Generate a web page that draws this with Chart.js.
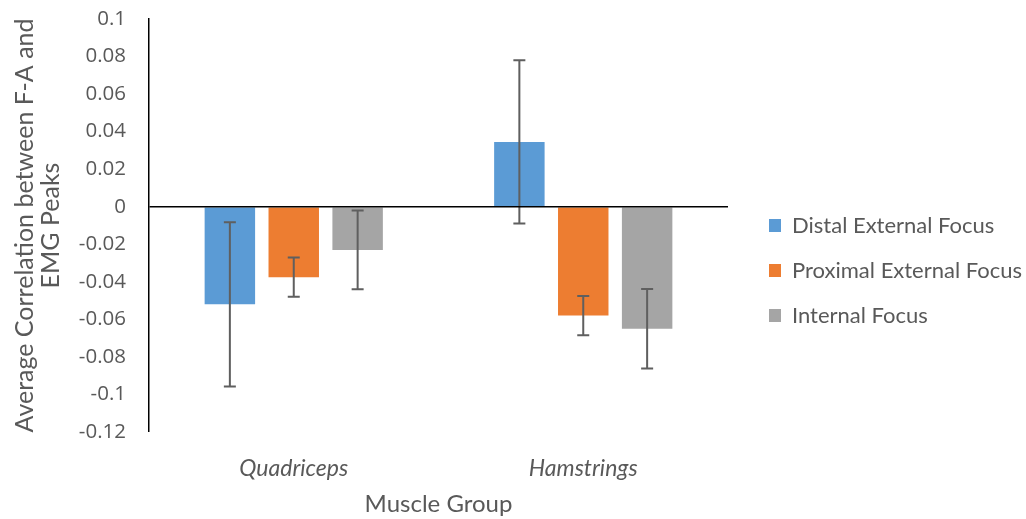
<!DOCTYPE html>
<html>
<head>
<meta charset="utf-8">
<script src="https://cdn.jsdelivr.net/npm/chart.js@4.4.1/dist/chart.umd.min.js"></script>
<style>
  html, body { margin: 0; padding: 0; background: #ffffff; }
  #wrap { width: 1026px; height: 519px; position: relative; }
</style>
</head>
<body>
<div id="wrap"><canvas id="c" width="1026" height="519"></canvas></div>
<script>
// ---- data ----
const categories = ['Quadriceps', 'Hamstrings'];
const seriesNames = ['Distal External Focus', 'Proximal External Focus', 'Internal Focus'];
const distalValues = [-0.052, 0.0345];
const proximalValues = [-0.0375, -0.058];
const internalValues = [-0.023, -0.065];
const distalErrors = [0.0437, 0.0435];
const proximalErrors = [0.0105, 0.0105];
const internalErrors = [0.021, 0.0212];
const yTickValues = [-0.12, -0.1, -0.08, -0.06, -0.04, -0.02, 0, 0.02, 0.04, 0.06, 0.08, 0.1];
const yTitle = ['Average Correlation between F-A and', 'EMG Peaks'];
const xTitle = 'Muscle Group';

const FONT = 'Lato';
const TEXT = '#595959';

const errorBars = {
  id: 'errorBars',
  afterDatasetsDraw(chart) {
    const ctx = chart.ctx;
    const y = chart.scales.y;
    ctx.save();
    ctx.strokeStyle = '#5f5f5f';
    ctx.lineWidth = 2;
    chart.data.datasets.forEach((ds, di) => {
      const meta = chart.getDatasetMeta(di);
      meta.data.forEach((bar, i) => {
        const v = ds.data[i], e = ds.errors[i];
        const x = bar.x;
        const yTop = y.getPixelForValue(v + e);
        const yBot = y.getPixelForValue(v - e);
        ctx.beginPath();
        ctx.moveTo(x, yTop); ctx.lineTo(x, yBot);
        ctx.moveTo(x - 6, yTop); ctx.lineTo(x + 6, yTop);
        ctx.moveTo(x - 6, yBot); ctx.lineTo(x + 6, yBot);
        ctx.stroke();
      });
    });
    ctx.restore();
  }
};

const legendFix = {
  id: 'legendFix',
  beforeLayout(chart) {
    const lg = chart.legend;
    if (lg && !lg._wrappedFit) {
      const orig = lg.fit.bind(lg);
      lg.fit = function () { orig(); this.width = 298; };
      lg._wrappedFit = true;
    }
  },
  afterLayout(chart) {
    const lg = chart.legend;
    if (!lg) return;
    lg.left += 18; lg.right += 18;
    lg.top += 1.5; lg.bottom += 1.5;
  }
};

new Chart(document.getElementById('c'), {
  type: 'bar',
  data: {
    labels: categories,
    datasets: [
      { label: seriesNames[0], data: distalValues, errors: distalErrors, backgroundColor: '#5B9BD5' },
      { label: seriesNames[1], data: proximalValues, errors: proximalErrors, backgroundColor: '#ED7D31' },
      { label: seriesNames[2], data: internalValues, errors: internalErrors, backgroundColor: '#A5A5A5' }
    ]
  },
  options: {
    responsive: false,
    animation: false,
    devicePixelRatio: 1,
    layout: { padding: { top: 19, right: 0, bottom: 0, left: 0 } },
    datasets: { bar: { categoryPercentage: 0.662, barPercentage: 0.79 } },
    scales: {
      x: {
        grid: { display: false },
        border: { display: false },
        afterFit(scale) { scale.height = 87; },
        ticks: { color: TEXT, padding: 15, font: { family: FONT, size: 23, style: 'italic' } },
        title: { display: true, text: xTitle, color: TEXT, padding: { top: 0, bottom: 0 }, font: { family: FONT, size: 24 } }
      },
      y: {
        min: -0.12, max: 0.1,
        afterBuildTicks(scale) { scale.ticks = yTickValues.map(v => ({ value: v })); },
        afterFit(scale) { scale.width = 149; },
        grid: {
          z: 1,
          drawTicks: true,
          tickLength: 23,
          tickColor: 'rgba(0,0,0,0)',
          color: (c) => (c.tick && c.tick.value === 0) ? '#000000' : 'rgba(0,0,0,0)',
          lineWidth: (c) => (c.tick && c.tick.value === 0) ? 1.5 : 0
        },
        border: { display: true, color: '#000000', width: 1.5, z: 1 },
        ticks: { color: TEXT, padding: 0, font: { family: 'Open Sans', size: 20.5 }, callback: (v) => String(v) },
        title: { display: true, text: yTitle, color: TEXT, padding: { top: 12, bottom: 0 }, font: { family: FONT, size: 25, lineHeight: 1.04 } }
      }
    },
    plugins: {
      legend: {
        position: 'right',
        align: 'center',
        labels: { color: TEXT, boxWidth: 12, boxHeight: 13, padding: 23, font: { family: FONT, size: 22 } }
      },
      tooltip: { enabled: false }
    }
  },
  plugins: [errorBars, legendFix]
});
</script>
</body>
</html>
